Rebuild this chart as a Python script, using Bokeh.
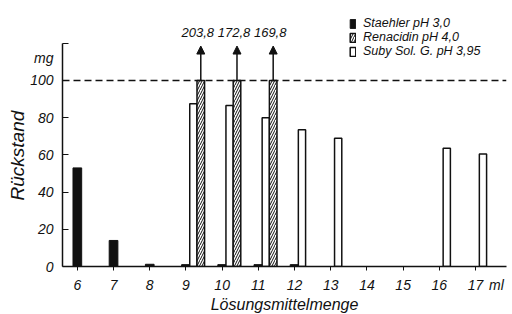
import numpy as np
from bokeh.plotting import figure
from bokeh.models import (ColumnDataSource, FixedTicker, Span, Arrow, NormalHead,
                          Legend, LegendItem, Range1d, Title)
from bokeh.transform import dodge
from bokeh.core.properties import value
from bokeh.embed import file_html
from bokeh.resources import INLINE

# ---- data ----
tick_ml = [6, 7, 8, 9, 10, 11, 12, 13, 14, 15, 16, 17]
tick_labels = ["6", "7", "8", "9", "10", "11", "12", "13", "14", "15", "16", "17"]
y_ticks = [0, 20, 40, 60, 80, 100, 120]
y_tick_labels = ["0", "20", "40", "60", "80", "100"]

staehler_ml = [6, 7, 8, 9, 10, 11, 12]
staehler_mg = [53, 14, 1.2, 1, 1, 1, 1]
suby_ml = [9, 10, 11, 12, 13, 16, 17]
suby_mg = [87.5, 86.5, 80, 73.5, 69, 63.5, 60.5]
renacidin_ml = [9, 10, 11]
renacidin_mg = [203.8, 172.8, 169.8]
renacidin_text = ["203,8", "172,8", "169,8"]
cap_mg = 100
legend_labels = ["Staehler pH 3,0", "Renacidin pH 4,0", "Suby Sol. G. pH 3,95"]
x_unit, x_unit_pos = "ml", 17.575
y_unit, y_unit_pos = "mg", 112

FONT = "Liberation Sans"
INK = "#111111"

p = figure(width=512, height=314, x_range=Range1d(5.59, 17.855), y_range=Range1d(0, 137.6),
           output_backend="svg", toolbar_location=None,
           min_border_left=62, min_border_right=6, min_border_top=10, min_border_bottom=48)
p.outline_line_color = None
p.grid.visible = False

src_s = ColumnDataSource(dict(x=staehler_ml, top=staehler_mg))
src_u = ColumnDataSource(dict(x=suby_ml, top=suby_mg))
src_r = ColumnDataSource(dict(x=renacidin_ml, val=renacidin_mg,
                              cap=np.minimum(renacidin_mg, cap_mg), label=renacidin_text))

r_s = p.vbar(x="x", top="top", width=0.24, source=src_s,
             fill_color=INK, line_color=INK, line_width=1)
r_u = p.vbar(x=dodge("x", 0.205), top="top", width=0.2, source=src_u,
             fill_color="white", line_color=INK, line_width=1.5)
r_r = p.vbar(x=dodge("x", 0.41), top="cap", width=0.21, source=src_r,
             fill_color="white", hatch_pattern="/", hatch_color=INK, hatch_scale=5,
             hatch_weight=1, line_color=INK, line_width=1.5)

p.add_layout(Span(location=cap_mg, dimension="width", line_color=INK,
                  line_width=1.5, line_dash="7 4"))

p.add_layout(Arrow(end=NormalHead(size=8, fill_color=INK, line_color=INK), start=None,
                   x_start=dodge("x", 0.41), y_start="cap", x_end=dodge("x", 0.41), y_end=118.5,
                   source=src_r, line_color=INK, line_width=1.5))

p.text(x=dodge("x", 0.41), y=126, text="label", source=src_r, x_offset=-3,
       text_font=value(FONT), text_font_style="italic", text_font_size="13px",
       text_align="center", text_baseline="middle", text_color=INK)

# x axis: minor ticks give the marks, major ticks give the labels (incl. unit)
xa = p.xaxis[0]
x_major = tick_ml + [x_unit_pos]
xa.ticker = FixedTicker(ticks=x_major, minor_ticks=tick_ml)
xa.major_label_overrides = dict(zip(x_major, tick_labels + [x_unit]))
xa.major_tick_line_color = None
xa.major_tick_in = 0
xa.major_tick_out = 0
xa.minor_tick_in = 0
xa.minor_tick_out = 4
xa.minor_tick_line_color = INK
xa.minor_tick_line_width = 1
xa.axis_line_width = 1.5
xa.axis_line_color = INK
xa.major_label_standoff = 6
xa.major_label_text_font = FONT
xa.major_label_text_font_style = "italic"
xa.major_label_text_font_size = "14px"
xa.major_label_text_color = INK

ya = p.yaxis[0]
ya.bounds = (0, 120)
y_major = y_ticks[:-1] + [y_unit_pos]
ya.ticker = FixedTicker(ticks=y_major, minor_ticks=y_ticks)
ya.major_label_overrides = dict(zip(y_major, y_tick_labels + [y_unit]))
ya.major_tick_line_color = None
ya.major_tick_in = 0
ya.major_tick_out = 0
ya.minor_tick_in = 6
ya.minor_tick_out = 0
ya.minor_tick_line_color = INK
ya.minor_tick_line_width = 1
ya.axis_line_width = 1.5
ya.axis_line_color = INK
ya.major_label_standoff = 9
ya.major_label_text_font = FONT
ya.major_label_text_font_style = "italic"
ya.major_label_text_font_size = "14px"
ya.major_label_text_color = INK

# axis titles
p.add_layout(Title(text="Rückstand", align="left", offset=66, standoff=0,
                   text_font=FONT, text_font_style="italic", text_font_size="19px",
                   text_color=INK), "left")
p.add_layout(Title(text="Lösungsmittelmenge", align="center", standoff=-4,
                   text_font=FONT, text_font_style="italic", text_font_size="16px",
                   text_color=INK), "below")

legend = Legend(items=[LegendItem(label=legend_labels[0], renderers=[r_s]),
                       LegendItem(label=legend_labels[1], renderers=[r_r]),
                       LegendItem(label=legend_labels[2], renderers=[r_u])],
                location=(287, 208), glyph_width=7, glyph_height=11, label_height=11,
                spacing=0, padding=0, margin=0, border_line_color=None,
                background_fill_alpha=0, label_standoff=7,
                label_text_font=FONT, label_text_font_style="italic",
                label_text_font_size="12.5px", label_text_color=INK)
p.add_layout(legend)

open("out.html", "w").write(file_html(p, INLINE))
